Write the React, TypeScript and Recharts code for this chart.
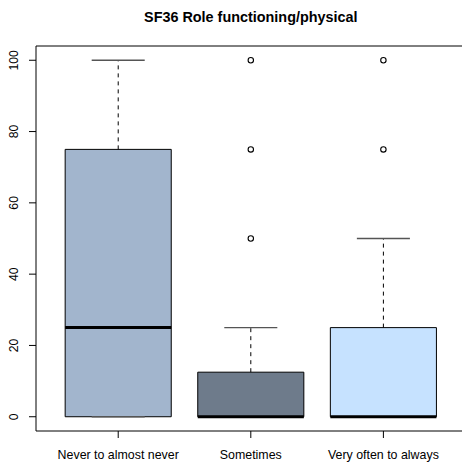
import {
  ReferenceArea,
  ReferenceLine,
  Scatter,
  ScatterChart,
  XAxis,
  YAxis,
} from "recharts";

const groups = ["Never to almost never", "Sometimes", "Very often to always"];
const lowerWhisker = [0, 0, 0];
const q1 = [0, 0, 0];
const median = [25, 0, 0];
const q3 = [75, 12.5, 25];
const upperWhisker = [100, 25, 50];
const outliers: number[][] = [[], [50, 75, 100], [75, 100]];
const boxColors = ["#A2B5CD", "#6E7B8B", "#C6E2FF"];
const yTicks = [0, 20, 40, 60, 80, 100];

const FONT = "'Liberation Sans', Arial, Helvetica, sans-serif";
const HALF_BOX = 0.4;
const HALF_CAP = 0.2;

const outlierPoints = outliers.flatMap((vals, i) => vals.map((v) => ({ x: i + 1, y: v })));

// eslint-disable-next-line @typescript-eslint/no-explicit-any
function XTick({ x, y, payload }: any) {
  return (
    <text x={x} y={y + 19} textAnchor="middle" fontSize={12.4} fontFamily={FONT} fill="#000">
      {groups[payload.value - 1]}
    </text>
  );
}

// eslint-disable-next-line @typescript-eslint/no-explicit-any
function YTick({ x, y, payload }: any) {
  const tx = x - 8.7;
  return (
    <text
      x={tx}
      y={y}
      transform={`rotate(-90, ${tx}, ${y})`}
      textAnchor="middle"
      fontSize={12.2}
      fontFamily={FONT}
      fill="#000"
    >
      {payload.value}
    </text>
  );
}

// eslint-disable-next-line @typescript-eslint/no-explicit-any
function OpenCircle({ cx, cy }: any) {
  return <circle cx={cx} cy={cy} r={2.7} fill="none" stroke="#000" strokeWidth={1.1} />;
}

export default function App() {
  return (
    <div
      style={{
        position: "fixed",
        left: 0,
        top: 0,
        width: 462,
        height: 463,
        overflow: "hidden",
        background: "#fff",
      }}
    >
      <svg width={462} height={40} style={{ position: "absolute", left: 0, top: 0 }}>
        <text
          x={250.8}
          y={21.5}
          textAnchor="middle"
          fontSize={14.4}
          fontWeight="bold"
          fontFamily={FONT}
          fill="#000"
        >
          SF36 Role functioning/physical
        </text>
      </svg>
      <ScatterChart
        width={470}
        height={463}
        margin={{ top: 46, right: 4.4, bottom: 0, left: 0 }}
      >
        <XAxis
          type="number"
          dataKey="x"
          domain={[0.38, 3.62]}
          ticks={[1, 2, 3]}
          allowDataOverflow
          height={32}
          tickSize={7}
          axisLine={{ stroke: "#000" }}
          tickLine={{ stroke: "#000" }}
          tick={<XTick />}
        />
        <YAxis
          type="number"
          dataKey="y"
          domain={[-4, 104]}
          ticks={yTicks}
          allowDataOverflow
          width={36}
          tickSize={7}
          axisLine={{ stroke: "#000" }}
          tickLine={{ stroke: "#000" }}
          tick={<YTick />}
        />
        <ReferenceLine y={104} stroke="#000" ifOverflow="visible" />

        {groups.map((g, i) => (
          <ReferenceArea
            key={`box-${g}`}
            x1={i + 1 - HALF_BOX}
            x2={i + 1 + HALF_BOX}
            y1={q1[i]}
            y2={q3[i]}
            fill={boxColors[i]}
            fillOpacity={1}
            stroke="#000"
            strokeWidth={1}
            ifOverflow="visible"
          />
        ))}

        {groups.map((g, i) =>
          q3[i] < upperWhisker[i] ? (
            <ReferenceLine
              key={`uw-${g}`}
              segment={[
                { x: i + 1, y: q3[i] },
                { x: i + 1, y: upperWhisker[i] },
              ]}
              stroke="#000"
              strokeDasharray="4 4"
              ifOverflow="visible"
            />
          ) : null
        )}

        {groups.map((g, i) => (
          <ReferenceLine
            key={`ucap-${g}`}
            segment={[
              { x: i + 1 - HALF_CAP, y: upperWhisker[i] },
              { x: i + 1 + HALF_CAP, y: upperWhisker[i] },
            ]}
            stroke="#555"
            strokeWidth={1.3}
            ifOverflow="visible"
          />
        ))}

        {groups.map((g, i) => (
          <ReferenceLine
            key={`lcap-${g}`}
            segment={[
              { x: i + 1 - HALF_CAP, y: lowerWhisker[i] },
              { x: i + 1 + HALF_CAP, y: lowerWhisker[i] },
            ]}
            stroke="#555"
            strokeWidth={1.3}
            ifOverflow="visible"
          />
        ))}

        {groups.map((g, i) => (
          <ReferenceLine
            key={`med-${g}`}
            segment={[
              { x: i + 1 - HALF_BOX, y: median[i] },
              { x: i + 1 + HALF_BOX, y: median[i] },
            ]}
            stroke="#000"
            strokeWidth={3}
            ifOverflow="visible"
          />
        ))}

        <Scatter data={outlierPoints} shape={<OpenCircle />} isAnimationActive={false} />
      </ScatterChart>
    </div>
  );
}
